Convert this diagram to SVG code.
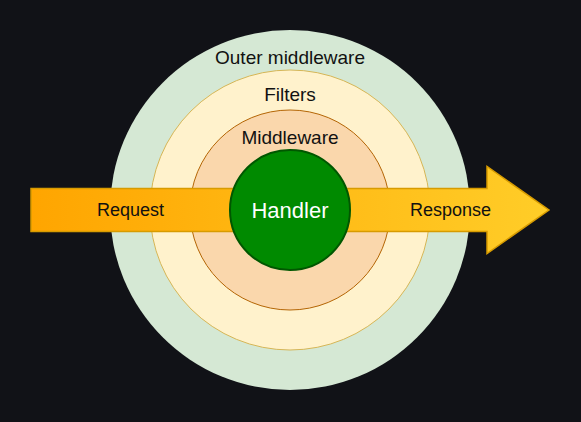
<svg xmlns="http://www.w3.org/2000/svg" width="581" height="422" viewBox="0 0 581 422">
<defs>
<style>
text{font-family:"Liberation Sans",Arial,sans-serif;text-anchor:middle;dominant-baseline:central;fill:#111;font-size:19px}
.a{font-size:18px}
</style>
<linearGradient id="ag" x1="0" y1="0" x2="1" y2="0">
<stop offset="0" stop-color="#ffa500"/>
<stop offset="1" stop-color="#ffcd28"/>
</linearGradient>
</defs>
<rect width="581" height="422" fill="#111217"/>
<g id="outer"><circle cx="290" cy="210" r="180" fill="#d5e8d4"/><text x="290" y="57">Outer middleware</text></g>
<g id="filters"><circle cx="290" cy="210" r="140" fill="#fff2cc" stroke="#d6b656" stroke-width="1"/><text x="290" y="94">Filters</text></g>
<g id="middleware"><circle cx="290" cy="210" r="100" fill="#fad7ac" stroke="#b46504" stroke-width="1"/><text x="290" y="137">Middleware</text></g>
<g id="connectors"><path d="M31 188.5H487V166.5L549 210L487 253.5V231.5H31Z" fill="url(#ag)" stroke="#d79b00" stroke-width="1.5" stroke-linejoin="miter"/>
<text class="a" x="130.5" y="210">Request</text><text class="a" x="450.5" y="210">Response</text></g>
<g id="handler"><circle cx="290" cy="210" r="60" fill="#008a00" stroke="#005700" stroke-width="2"/><text x="290" y="210" style="fill:#fff;font-size:22px">Handler</text></g>
</svg>
